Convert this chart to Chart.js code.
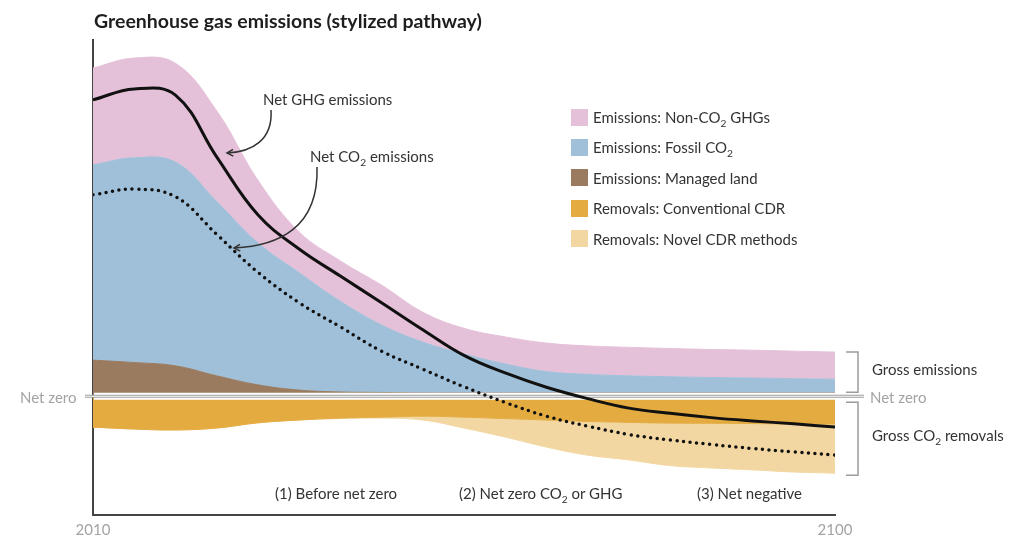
<!DOCTYPE html>
<html lang="en">
<head>
  <meta charset="UTF-8" />
  <title>Greenhouse gas emissions (stylized pathway)</title>
  <style>
    body {
      margin: 0;
      background: #fff;
      font-family: Lato, "Open Sans", sans-serif;
      color: #333;
    }
    .wrap {
      position: relative;
      width: 1024px;
      height: 539px;
    }
    canvas {
      position: absolute;
      left: 0;
      top: 0;
    }
    .lbl {
      position: absolute;
      white-space: nowrap;
      font-size: 15px;
      line-height: 18px;
      transform: translateY(-50%);
    }
    .grey { color: #a3a3a3; }
    sub {
      font-size: 0.68em;
      vertical-align: -0.35em;
      line-height: 0;
    }
    h1 {
      position: absolute;
      left: 94px;
      top: 20px;
      margin: 0;
      transform: translateY(-50%);
      font-size: 19.5px;
      font-weight: bold;
      color: #1e1e1e;
      white-space: nowrap;
    }
    .sw {
      position: absolute;
      width: 17px;
      height: 17px;
    }
  </style>
</head>
<body>
  <div class="wrap" id="wrap">
    <canvas id="ghgChart" width="1024" height="539"></canvas>
    <h1>Greenhouse gas emissions (stylized pathway)</h1>
    <div class="lbl" style="left:263px; top:99px;">Net GHG emissions</div>
    <div class="lbl" style="left:310px; top:156px;">Net CO<sub>2</sub> emissions</div>
    <div class="lbl grey" style="left:20px; top:397px;">Net zero</div>
    <div class="lbl grey" style="left:870px; top:397px;">Net zero</div>
    <div class="lbl" style="left:872px; top:369px;">Gross emissions</div>
    <div class="lbl" style="left:872px; top:435px;">Gross CO<sub>2</sub> removals</div>
    <div class="lbl" style="left:275px; top:493px;">(1) Before net zero</div>
    <div class="lbl" style="left:459px; top:493px;">(2) Net zero CO<sub>2</sub> or GHG</div>
    <div class="lbl" style="left:697px; top:493px;">(3) Net negative</div>
  </div>

  <script src="https://cdn.jsdelivr.net/npm/chart.js"></script>
  <script>
    // stylized pathway, values in arbitrary units
    const years = [2010, 2015, 2020, 2025, 2030, 2035, 2040, 2045, 2050, 2055,
                   2060, 2065, 2070, 2075, 2080, 2085, 2090, 2095, 2100];

    const managedLand = [7.6, 7.1, 6.4, 4.3, 2.4, 1.3, 0.9, 0.8, 0.7, 0.7,
                         0.7, 0.7, 0.7, 0.7, 0.7, 0.7, 0.7, 0.7, 0.7];
    const fossilCO2 = [41.1, 43.1, 42.9, 36.7, 29.9, 24.7, 19.1, 14.2, 10.7, 8.2,
                       6.1, 4.5, 3.9, 3.6, 3.4, 3.25, 3.15, 3.0, 2.9];
    const nonCO2 = [20.4, 21.0, 20.8, 19.1, 13.2, 8.6, 8.5, 8.4, 6.3, 5.4,
                    5.7, 6.0, 6.0, 6.0, 5.95, 5.9, 5.85, 5.8, 5.7];
    const conventionalCDR = [-6.5, -6.9, -7.1, -6.7, -5.6, -5.0, -4.6, -4.4, -4.2, -4.4,
                             -4.7, -5.0, -5.3, -5.5, -5.65, -5.7, -5.75, -5.85, -5.85];
    const novelCDR = [0, 0, 0, 0, 0, 0, -0.1, -0.2, -0.8, -2.3,
                      -3.9, -5.7, -7.1, -7.9, -8.95, -9.4, -9.75, -10.1, -10.35];
    const netGHG = [62.4, 64.7, 63.4, 50.4, 38.2, 31.0, 25.3, 19.7, 14.0, 8.6,
                    4.9, 1.9, -0.5, -2.5, -3.6, -4.5, -5.2, -5.8, -6.5];
    const netCO2 = [42.4, 43.6, 42.0, 34.1, 26.1, 19.7, 14.6, 9.5, 5.7, 2.0,
                    -1.3, -4.2, -6.3, -8.05, -9.2, -10.15, -11.0, -11.7, -12.4];

    const legendNames = [
      'Emissions: Non-CO<sub>2</sub> GHGs',
      'Emissions: Fossil CO<sub>2</sub>',
      'Emissions: Managed land',
      'Removals: Conventional CDR',
      'Removals: Novel CDR methods'
    ];
    const colors = ['#e5c1d9', '#a0c0d9', '#9a7b60', '#e4ab40', '#f2d7a2'];

    // legend (html so subscripts stay real text)
    const wrap = document.getElementById('wrap');
    legendNames.forEach((name, i) => {
      const cy = 117 + i * 30.4;
      const sw = document.createElement('div');
      sw.className = 'sw';
      sw.style.left = '571px';
      sw.style.top = (cy - 8.5) + 'px';
      sw.style.background = colors[i];
      wrap.appendChild(sw);
      const t = document.createElement('div');
      t.className = 'lbl';
      t.style.left = '593px';
      t.style.top = cy + 'px';
      t.innerHTML = name;
      wrap.appendChild(t);
    });

    const xy = arr => arr.map((v, i) => ({ x: years[i], y: v }));

    function area(data, color, stack, fill) {
      return {
        data: xy(data),
        stack: stack,
        fill: fill,
        backgroundColor: color,
        borderColor: color,
        borderWidth: 1,
        pointRadius: 0,
        tension: 0.4,
        order: 2
      };
    }

    function arrow(ctx, pts) {
      const [p0, c1, c2, p1] = pts;
      ctx.beginPath();
      ctx.moveTo(p0[0], p0[1]);
      ctx.bezierCurveTo(c1[0], c1[1], c2[0], c2[1], p1[0], p1[1]);
      ctx.stroke();
      const ang = Math.atan2(p1[1] - c2[1], p1[0] - c2[0]);
      ctx.beginPath();
      ctx.moveTo(p1[0] - 7 * Math.cos(ang - 0.5), p1[1] - 7 * Math.sin(ang - 0.5));
      ctx.lineTo(p1[0], p1[1]);
      ctx.lineTo(p1[0] - 7 * Math.cos(ang + 0.5), p1[1] - 7 * Math.sin(ang + 0.5));
      ctx.stroke();
    }

    const decor = {
      id: 'decor',
      beforeDatasetDraw(chart, args) {
        // white gap + net zero line, after the areas and before the two lines
        if (args.index !== 5) return;
        const { ctx, chartArea, scales } = chart;
        const y0 = scales.y.getPixelForValue(0);
        ctx.save();
        ctx.fillStyle = '#fff';
        ctx.fillRect(chartArea.left + 1, y0 - 3.5, chartArea.right - chartArea.left, 7);
        ctx.strokeStyle = '#9c9c9c';
        ctx.lineWidth = 3;
        ctx.beginPath();
        ctx.moveTo(chartArea.left - 8, y0);
        ctx.lineTo(chartArea.right + 29, y0);
        ctx.stroke();
        ctx.strokeStyle = '#fff';
        ctx.lineWidth = 1;
        ctx.stroke();
        ctx.restore();
      },
      afterDraw(chart) {
        const { ctx, chartArea, scales } = chart;
        const y = scales.y;
        const y0 = y.getPixelForValue(0);
        const last = years.length - 1;
        ctx.save();
        // brackets
        ctx.strokeStyle = '#9c9c9c';
        ctx.lineWidth = 1.5;
        const bx = chartArea.right + 23;
        const top1 = y.getPixelForValue(managedLand[last] + fossilCO2[last] + nonCO2[last]);
        const bot2 = y.getPixelForValue(conventionalCDR[last] + novelCDR[last]) + 2;
        [[top1, y0 - 4], [y0 + 6, bot2]].forEach(([a, b]) => {
          ctx.beginPath();
          ctx.moveTo(chartArea.right + 11, a);
          ctx.lineTo(bx, a);
          ctx.lineTo(bx, b);
          ctx.lineTo(chartArea.right + 11, b);
          ctx.stroke();
        });
        // annotation arrows
        ctx.strokeStyle = '#333';
        ctx.lineWidth = 1.5;
        arrow(ctx, [[271, 110], [273, 140], [252, 152], [227, 153]]);
        arrow(ctx, [[317, 167], [319, 228], [278, 246], [234, 248]]);
        ctx.restore();
      }
    };

    const ctx = document.getElementById('ghgChart').getContext('2d');
    new Chart(ctx, {
      type: 'line',
      data: {
        datasets: [
          area(managedLand, colors[2], 'em', 'origin'),
          area(fossilCO2, colors[1], 'em', '-1'),
          area(nonCO2, colors[0], 'em', '-1'),
          area(conventionalCDR, colors[3], 'rm', 'origin'),
          area(novelCDR, colors[4], 'rm', '-1'),
          {
            data: xy(netCO2),
            stack: 'co2',
            fill: false,
            borderColor: '#111',
            borderWidth: 3.5,
            borderDash: [0, 6.6],
            borderCapStyle: 'round',
            pointRadius: 0,
            tension: 0.4,
            order: 1
          },
          {
            data: xy(netGHG),
            stack: 'ghg',
            fill: false,
            borderColor: '#111',
            borderWidth: 3,
            pointRadius: 0,
            tension: 0.4,
            order: 0
          }
        ]
      },
      options: {
        responsive: false,
        animation: false,
        layout: { padding: { left: 93, right: 189, top: 40, bottom: 1 } },
        plugins: {
          legend: { display: false },
          tooltip: { enabled: false }
        },
        scales: {
          x: {
            type: 'linear',
            min: 2010,
            max: 2100,
            afterBuildTicks: s => { s.ticks = [{ value: 2010 }, { value: 2100 }]; },
            afterFit: s => { s.height = 23; },
            ticks: {
              callback: v => String(v),
              color: '#a3a3a3',
              font: { family: 'Lato', size: 15 },
              padding: 6,
              maxRotation: 0,
              autoSkip: false
            },
            grid: { display: false, drawTicks: false },
            border: { display: true, color: '#444', width: 2 }
          },
          y: {
            min: -25,
            max: 75,
            stacked: true,
            ticks: { display: false },
            grid: { display: false, drawTicks: false },
            border: { display: true, color: '#444', width: 2 }
          }
        }
      },
      plugins: [decor]
    });
  </script>
</body>
</html>
